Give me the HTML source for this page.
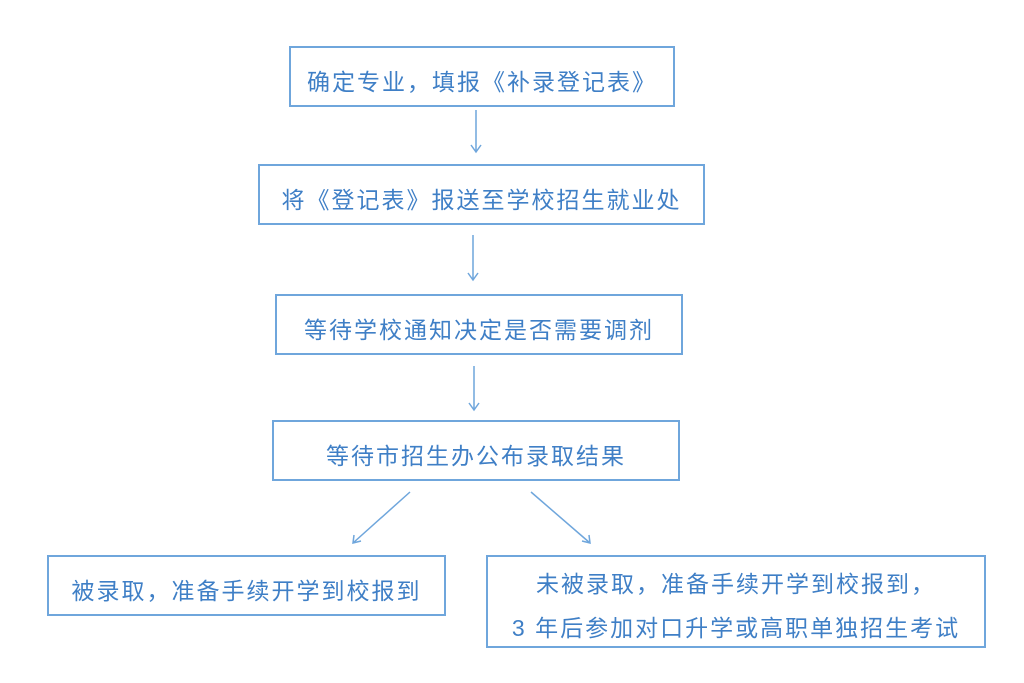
<!DOCTYPE html>
<html><head><meta charset="utf-8"><style>
body{margin:0;width:1024px;height:683px;background:#fff;position:relative;overflow:hidden;font-family:"Liberation Sans","Noto Sans CJK SC",sans-serif;}
.b{position:absolute;border:2px solid #6fa6dc;box-sizing:border-box;display:flex;align-items:center;justify-content:center;text-align:center;color:#3f7fc6;font-size:23px;line-height:44px;letter-spacing:2px;padding-top:10px;}
svg{position:absolute;left:0;top:0}
</style></head><body>
<div class="b" style="left:289px;top:46px;width:386px;height:61px">确定专业，填报《补录登记表》</div>
<div class="b" style="left:258px;top:164px;width:447px;height:61px">将《登记表》报送至学校招生就业处</div>
<div class="b" style="left:275px;top:294px;width:408px;height:61px">等待学校通知决定是否需要调剂</div>
<div class="b" style="left:272px;top:420px;width:408px;height:61px">等待市招生办公布录取结果</div>
<div class="b" style="left:47px;top:555px;width:399px;height:61px">被录取，准备手续开学到校报到</div>
<div class="b" style="left:486px;top:555px;width:500px;height:93px;padding-top:8px">未被录取，准备手续开学到校报到，<br>3 年后参加对口升学或高职单独招生考试</div>
<svg width="1024" height="683"><g stroke="#6fa6dc" stroke-width="1.5" fill="none">
<path d="M476 110V152M471 145L476 152L481 145"/>
<path d="M473 235V280M468 273L473 280L478 273"/>
<path d="M474 366V410M469 403L474 410L479 403"/>
<path d="M410 492L353 543M354 535L353 543L361 541"/>
<path d="M531 492L590 543M582 541L590 543L589 535"/>
</g></svg>
</body></html>
